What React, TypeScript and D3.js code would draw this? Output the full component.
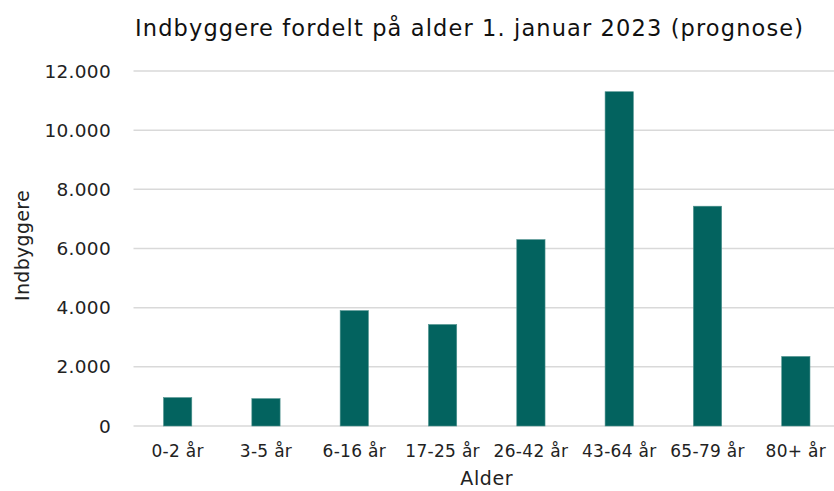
import React from 'react';
import * as d3 from 'd3';

const categories = ['0-2 år', '3-5 år', '6-16 år', '17-25 år', '26-42 år', '43-64 år', '65-79 år', '80+ år'];
const values = [960, 925, 3900, 3430, 6300, 11300, 7430, 2350];
const yTicks = [0, 2000, 4000, 6000, 8000, 10000, 12000];

const WIDTH = 834;
const HEIGHT = 491;
const FONT = '"DejaVu Sans", Verdana, sans-serif';

const fmt = (v: number) => (v === 0 ? '0' : d3.format(',')(v).replace(/,/g, '.'));

export default function App() {
  const left = 133.5;
  const right = 840;
  const top = 71;
  const bottom = 426;

  const x = d3.scaleBand<string>().domain(categories).range([left, right]).paddingInner(0.68).paddingOuter(0.34);
  const y = d3.scaleLinear().domain([0, 12000]).range([bottom, top]);

  return (
    <svg width={WIDTH} height={HEIGHT} style={{ position: 'absolute', left: 0, top: 0, background: '#fff' }} fontFamily={FONT}>
      <text x={135} y={36} fontSize={22.5} fill="#111" textLength={668} lengthAdjust="spacing">
        Indbyggere fordelt på alder 1. januar 2023 (prognose)
      </text>

      {/* gridlines and y ticks */}
      {yTicks.map((t) => (
        <g key={t}>
          <line x1={left} x2={right} y1={y(t)} y2={y(t)} stroke="#d9d9d9" strokeWidth={1.5} />
          <text x={111} y={y(t)} dy="0.36em" textAnchor="end" fontSize={18.5} letterSpacing={0.3} fill="#222">
            {fmt(t)}
          </text>
        </g>
      ))}

      {/* bars */}
      {categories.map((c, i) => (
        <rect
          key={c}
          x={x(c)}
          y={y(values[i])}
          width={x.bandwidth()}
          height={y(0) - y(values[i])}
          fill="#03635f"
          stroke="#4f928e"
          strokeWidth={0.6}
        />
      ))}

      {/* x labels */}
      {categories.map((c) => (
        <text key={c} x={(x(c) ?? 0) + x.bandwidth() / 2} y={457} textAnchor="middle" fontSize={17} letterSpacing={0.3} fill="#222">
          {c}
        </text>
      ))}

      <text x={(left + right) / 2} y={485} textAnchor="middle" fontSize={19} letterSpacing={0.6} fill="#222">
        Alder
      </text>
      <text
        transform={`translate(29, ${(top + bottom) / 2 - 3}) rotate(-90)`}
        textAnchor="middle"
        fontSize={19}
        letterSpacing={0.3}
        fill="#222"
      >
        Indbyggere
      </text>
    </svg>
  );
}
